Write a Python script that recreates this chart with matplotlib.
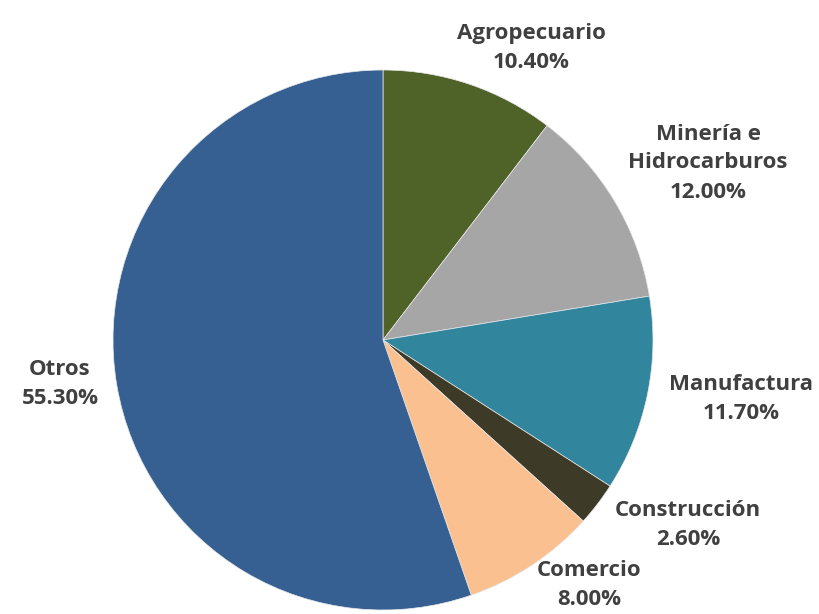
import matplotlib.pyplot as plt

# sector shares (%), clockwise from 12 o'clock
sectors = ["Agropecuario", "Minería e\nHidrocarburos", "Manufactura",
           "Construcción", "Comercio", "Otros"]
shares = [10.4, 12.0, 11.7, 2.6, 8.0, 55.3]
colors = ["#4F6228", "#A6A6A6", "#31859C", "#3D3A28", "#FAC090", "#376092"]

# label centres in pixel space (x right, y up)
label_pos = [(531, 566), (708, 451), (741, 215), (688, 89), (589, 29), (60, 230)]

fig = plt.figure(figsize=(8.19, 6.14), dpi=100)
ax = fig.add_axes([0, 0, 1, 1])

ax.pie(shares, colors=colors, startangle=90, counterclock=False,
       center=(383, 274), radius=270, frame=True,
       wedgeprops=dict(edgecolor="#E8E8E8", linewidth=0.5))
ax.set_xlim(0, 819)
ax.set_ylim(0, 614)
ax.set_aspect("equal")
ax.axis("off")

for name, val, (x, y) in zip(sectors, shares, label_pos):
    ax.text(x, y, f"{name}\n{val:.2f}%", ha="center", va="center",
            fontsize=16, fontweight="bold", color="#404040",
            family="Open Sans", linespacing=1.5)

fig.savefig("out.png", dpi=100)
